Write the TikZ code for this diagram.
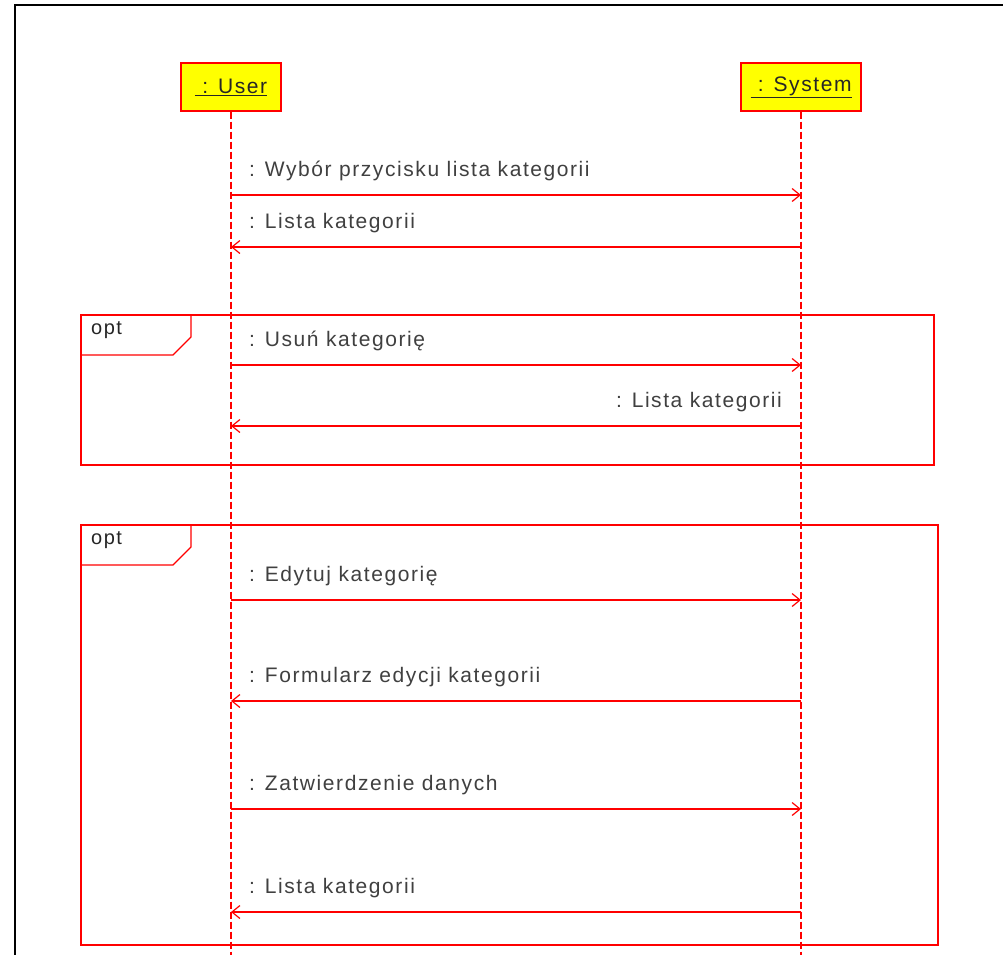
\documentclass[tikz,border=0pt]{standalone}
\usepackage{fontspec}
\setmainfont{Liberation Sans}[LetterSpace=7.5]
\usetikzlibrary{arrows.meta}
\definecolor{umlred}{RGB}{255,0,0}
\definecolor{umlyellow}{RGB}{255,255,0}
\definecolor{labelgray}{RGB}{64,64,64}
\begin{document}
\begin{tikzpicture}[x=1pt,y=-1pt,
  actorbox/.style={draw=umlred,fill=umlyellow,line width=1.2pt,minimum height=48pt,inner sep=0pt,font=\fontsize{21}{24}\selectfont,text=black!85},
  lifeline/.style={draw=umlred,line width=1.2pt,dash pattern=on 7pt off 3pt},
  msg/.style={draw=umlred,line width=1.2pt,-{Straight Barb[length=8pt,width=13pt,line width=1.2pt]}},
  msglabel/.style={font=\fontsize{21}{24}\selectfont,text=labelgray,inner sep=0pt},
  frameline/.style={draw=umlred,line width=1.2pt},
  optlabel/.style={font=\fontsize{20}{24}\selectfont,text=black!85,inner sep=0pt,anchor=base west}]
\useasboundingbox (0,0) rectangle (1003,954);
\fill[white] (0,0) rectangle (1003,954);
% outer frame
\draw[black,line width=2pt] (15,960) -- (15,5) -- (1010,5);
% actors
\node[actorbox,minimum width=100pt] (user) at (231,87) {\underline{~: User}};
\node[actorbox,minimum width=120pt] (system) at (801,87) {\underline{~: System}};
\coordinate (userend) at (231,960);
\coordinate (sysend) at (801,960);
\draw[lifeline] (user.south) -- (userend);
\draw[lifeline] (system.south) -- (sysend);
% message points
\foreach \n/\y in {1/195,2/247,3/365,4/426,5/600,6/701,7/809,8/912}{
  \coordinate (u\n) at (231,\y);
  \coordinate (s\n) at (801,\y);
}
% messages
\draw[msg] (u1) -- (s1);
\node[msglabel,anchor=base west] (l1) at (249,176) {: Wybór przycisku lista kategorii};
\draw[msg] (s2) -- (u2);
\node[msglabel,anchor=base west] (l2) at (249,228) {: Lista kategorii};
% opt frame 1
\draw[frameline] (81,315) rectangle (934,465);
\draw[frameline] (81,355) -- (173,355) -- (191,337) -- (191,315);
\node[optlabel] (opt1) at (91,334) {opt};
\draw[msg] (u3) -- (s3);
\node[msglabel,anchor=base west] (l3) at (249,346) {: Usuń kategorię};
\draw[msg] (s4) -- (u4);
\node[msglabel,anchor=base east] (l4) at (782,407) {: Lista kategorii};
% opt frame 2
\draw[frameline] (81,525) rectangle (938,945);
\draw[frameline] (81,565) -- (173,565) -- (191,547) -- (191,525);
\node[optlabel] (opt2) at (91,544) {opt};
\draw[msg] (u5) -- (s5);
\node[msglabel,anchor=base west] (l5) at (249,581) {: Edytuj kategorię};
\draw[msg] (s6) -- (u6);
\node[msglabel,anchor=base west] (l6) at (249,682) {: Formularz edycji kategorii};
\draw[msg] (u7) -- (s7);
\node[msglabel,anchor=base west] (l7) at (249,790) {: Zatwierdzenie danych};
\draw[msg] (s8) -- (u8);
\node[msglabel,anchor=base west] (l8) at (249,893) {: Lista kategorii};
\end{tikzpicture}
\end{document}
